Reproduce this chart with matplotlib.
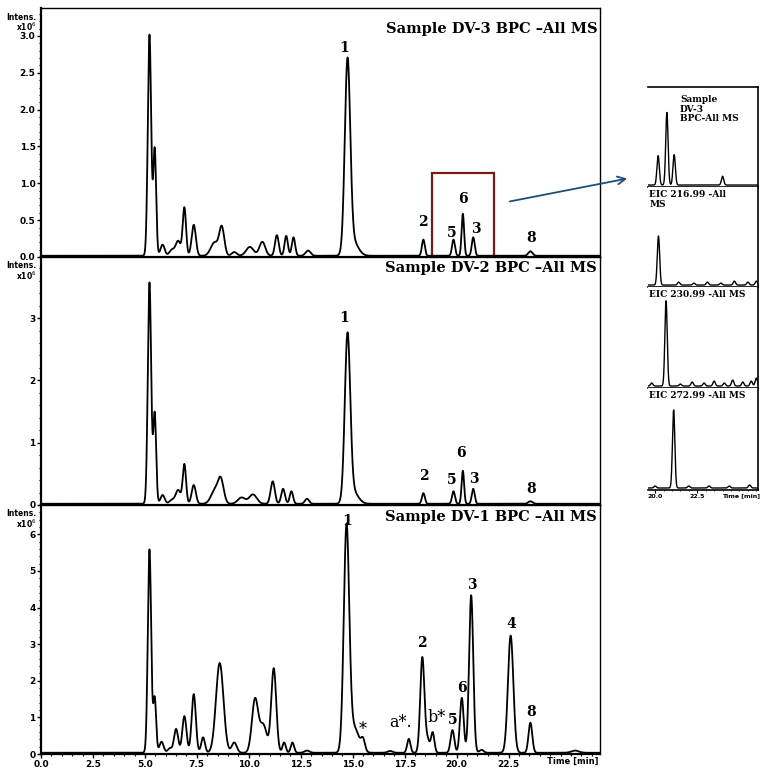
import numpy as np
import matplotlib
matplotlib.use("Agg")
import matplotlib.pyplot as plt
from matplotlib.ticker import MultipleLocator, FixedLocator, FormatStrFormatter
from matplotlib.patches import Rectangle, FancyArrowPatch

# peak tables: retention time (min), intensity (x10^6), width (sigma, min)
dv3_rt = [5.22, 5.47, 5.85, 6.3, 6.6, 6.9, 7.35, 8.35, 8.7, 9.3, 10.05, 10.65, 11.35, 11.8, 12.15, 12.85,
          14.75, 15.0, 18.4, 19.85, 20.3, 20.8, 23.55]
dv3_int = [3.0, 1.45, 0.15, 0.08, 0.2, 0.65, 0.42, 0.18, 0.38, 0.05, 0.12, 0.19, 0.28, 0.27, 0.25, 0.07,
           2.57, 0.2, 0.22, 0.22, 0.57, 0.25, 0.06]
dv3_w = [0.08, 0.07, 0.1, 0.12, 0.12, 0.08, 0.1, 0.18, 0.12, 0.12, 0.18, 0.14, 0.09, 0.08, 0.08, 0.12,
         0.13, 0.25, 0.07, 0.07, 0.06, 0.07, 0.1]

dv2_rt = [5.22, 5.47, 5.85, 6.3, 6.6, 6.9, 7.35, 8.35, 8.65, 9.65, 10.2, 11.15, 11.65, 12.05, 12.8,
          14.75, 15.0, 18.4, 19.85, 20.3, 20.8, 23.55]
dv2_int = [3.55, 1.45, 0.14, 0.06, 0.22, 0.63, 0.3, 0.2, 0.38, 0.1, 0.15, 0.36, 0.24, 0.2, 0.08,
           2.63, 0.2, 0.17, 0.2, 0.53, 0.24, 0.04]
dv2_w = [0.08, 0.07, 0.1, 0.12, 0.12, 0.08, 0.1, 0.18, 0.14, 0.18, 0.18, 0.1, 0.09, 0.08, 0.1,
         0.13, 0.25, 0.07, 0.07, 0.06, 0.07, 0.1]

dv1_rt = [5.22, 5.47, 5.8, 6.2, 6.5, 6.9, 7.35, 7.8, 8.6, 9.3, 10.3, 10.7, 11.2, 11.7, 12.1, 12.8,
          14.7, 15.05, 15.5, 16.8, 17.7, 18.35, 18.6, 18.85, 19.8, 20.25, 20.7, 21.2, 22.6, 23.55, 25.7]
dv1_int = [5.55, 1.5, 0.3, 0.12, 0.65, 1.0, 1.6, 0.42, 2.45, 0.28, 1.45, 0.75, 2.3, 0.28, 0.28, 0.06,
           6.0, 0.7, 0.28, 0.05, 0.38, 2.6, 0.35, 0.55, 0.62, 1.5, 4.3, 0.08, 3.2, 0.82, 0.06]
dv1_w = [0.08, 0.07, 0.1, 0.1, 0.1, 0.1, 0.1, 0.09, 0.18, 0.12, 0.15, 0.17, 0.12, 0.08, 0.08, 0.12,
         0.13, 0.25, 0.09, 0.12, 0.08, 0.1, 0.1, 0.08, 0.09, 0.09, 0.1, 0.1, 0.13, 0.09, 0.18]

# peak labels (text, rt, intensity)
dv3_labels = [("1", 14.6, 2.84), ("2", 18.37, 0.48), ("5", 19.76, 0.33), ("6", 20.29, 0.79),
              ("3", 20.91, 0.38), ("8", 23.56, 0.26)]
dv2_labels = [("1", 14.6, 3.0), ("2", 18.41, 0.47), ("5", 19.76, 0.40), ("6", 20.19, 0.83),
              ("3", 20.82, 0.42), ("8", 23.56, 0.26)]
dv1_labels = [("1", 14.71, 6.37), ("2", 18.32, 3.03), ("3", 20.72, 4.62), ("4", 22.64, 3.55),
              ("6", 20.24, 1.80), ("5", 19.81, 0.93), ("8", 23.56, 1.15)]
dv1_marks = [("b*", 19.05, 1.01), ("a*.", 17.3, 0.85), ("*", 15.48, 0.66)]

# zoomed inset traces, 20-26 min, relative height
inset_names = ["Sample\nDV-3\nBPC-All MS", "EIC 216.99 -All\nMS", "EIC 230.99 -All MS", "EIC 272.99 -All MS"]
inset_rt = [[20.18, 20.7, 21.13, 24.0],
            [20.2, 21.4, 22.3, 23.1, 23.9, 24.7, 25.5, 26.0],
            [19.8, 20.65, 21.5, 22.2, 22.9, 23.5, 24.1, 24.6, 25.2, 25.7, 26.0],
            [20.0, 21.1, 22.0, 23.2, 24.4, 25.6]]
inset_int = [[0.30, 0.74, 0.31, 0.09],
             [0.50, 0.03, 0.02, 0.03, 0.02, 0.04, 0.03, 0.04],
             [0.03, 0.86, 0.02, 0.04, 0.03, 0.05, 0.03, 0.06, 0.04, 0.05, 0.08],
             [0.02, 0.78, 0.02, 0.02, 0.02, 0.03]]
inset_w = 0.07

x_ticks = [0, 2.5, 5, 7.5, 10, 12.5, 15, 17.5, 20, 22.5]


def trace(t, rt, h, w):
    y = np.zeros_like(t)
    for r, a, s in zip(rt, h, w if np.ndim(w) else [w] * len(rt)):
        y += a * np.exp(-0.5 * ((t - r) / s) ** 2)
    return y


W, H = 765, 776
fig = plt.figure(figsize=(W / 100, H / 100), dpi=100)
plt.rcParams["font.family"] = "DejaVu Sans"


def box(x0, y0, x1, y1):
    return [x0 / W, 1 - y1 / H, (x1 - x0) / W, (y1 - y0) / H]


t = np.linspace(0, 27, 5401)
xmax = 26.9
title_font = dict(family="DejaVu Serif", weight="bold", size=10.5)
lab_font = dict(family="DejaVu Serif", weight="bold", size=10)

panels = [
    (box(41, 8, 600, 257), dv3_rt, dv3_int, dv3_w, 3.38, 0.5, 0.1, "%.1f", "Sample DV-3 BPC \u2013All MS", dv3_labels, 0.915),
    (box(41, 257, 600, 505), dv2_rt, dv2_int, dv2_w, 3.98, 1, 0.2, "%d", "Sample DV-2 BPC \u2013All MS", dv2_labels, 0.955),
    (box(41, 505, 600, 754), dv1_rt, dv1_int, dv1_w, 6.8, 1, 0.2, "%d", "Sample DV-1 BPC \u2013All MS", dv1_labels, 0.95),
]

axes = []
for i, (pos, rt, h, w, ymax, major, minor, fmt, title, labels, ty) in enumerate(panels):
    ax = fig.add_axes(pos)
    ax.plot(t, trace(t, rt, h, w) + 0.005 * ymax, color="black", lw=1.3)
    ax.set_xlim(0, xmax)
    ax.set_ylim(0, ymax)
    ax.yaxis.set_major_locator(MultipleLocator(major))
    ax.yaxis.set_minor_locator(MultipleLocator(minor))
    ax.yaxis.set_major_formatter(FormatStrFormatter(fmt))
    ax.xaxis.set_major_locator(FixedLocator(x_ticks))
    ax.xaxis.set_minor_locator(MultipleLocator(0.5))
    ax.xaxis.set_major_formatter(FormatStrFormatter("%.1f"))
    ax.tick_params(axis="both", which="major", direction="out", length=3, width=1, labelsize=6.5, pad=1)
    ax.tick_params(axis="both", which="minor", direction="out", length=1.5, width=0.8)
    for lbl in ax.get_yticklabels() + ax.get_xticklabels():
        lbl.set_fontweight("bold")
    if i < 2:
        ax.tick_params(axis="x", labelbottom=False)
    for s in ax.spines.values():
        s.set_linewidth(1.0)
    ax.spines["left"].set_linewidth(1.6)
    ax.spines["bottom"].set_linewidth(1.6)
    ax.text(0.995, ty, title, transform=ax.transAxes, ha="right", va="center", **title_font)
    for txt, x, y in labels:
        ax.text(x, y, txt, ha="center", va="center", **lab_font)
    axes.append(ax)

# non-numbered marks in the DV-1 trace
for txt, x, y in dv1_marks:
    axes[2].text(x, y, txt, ha="center", va="center", family="DejaVu Serif", size=11.5)
axes[2].text(25.6, -0.012, "Time [min]", transform=axes[2].get_xaxis_transform(), ha="center", va="top",
             fontsize=6, fontweight="bold")

# "Intens. x10^6" labels
for y0 in [8, 257, 505]:
    fig.text(21 / W, 1 - (y0 + 9) / H, "Intens.", fontsize=5.5, fontweight="bold", ha="center", va="center")
    fig.text(26 / W, 1 - (y0 + 19) / H, "x10$^6$", fontsize=5.5, fontweight="bold", ha="center", va="center")

# zoom box on DV-3
axes[0].add_patch(Rectangle((18.8, -0.07), 3.0, 1.21, fill=False, edgecolor="#7b1818", lw=1.6, clip_on=False))
fig.add_artist(FancyArrowPatch((507 / W, 1 - 202 / H), (630 / W, 1 - 178 / H),
                               transform=fig.transFigure, arrowstyle="->", mutation_scale=14,
                               color="#1f4e79", lw=1.3))

# inset EIC panels
bounds = [87, 187, 287, 388, 490]
for k in range(4):
    ax = fig.add_axes(box(648, bounds[k], 758, bounds[k + 1]))
    ax.plot(t, trace(t, inset_rt[k], inset_int[k], inset_w), color="black", lw=1.0)
    ax.set_xlim(19.58, 26.1)
    ax.set_ylim(-0.02, 1.0)
    ax.spines["left"].set_visible(False)
    ax.spines["top"].set_visible(k == 0)
    for s in ax.spines.values():
        s.set_linewidth(1.2)
    ax.set_yticks([])
    ax.xaxis.set_major_locator(FixedLocator([20.0, 22.5]))
    ax.xaxis.set_minor_locator(MultipleLocator(0.5))
    ax.xaxis.set_major_formatter(FormatStrFormatter("%.1f"))
    ax.tick_params(axis="x", which="major", direction="out", length=2, width=0.8, labelsize=4.5, pad=1)
    ax.tick_params(axis="x", which="minor", direction="out", length=1, width=0.6)
    if k < 3:
        ax.tick_params(axis="x", labelbottom=False)
    else:
        for lbl in ax.get_xticklabels():
            lbl.set_fontweight("bold")
        ax.text(25.1, -0.03, "Time [min]", transform=ax.get_xaxis_transform(), ha="center", va="top",
                fontsize=4.5, fontweight="bold")
    if k == 0:
        ax.text(0.29, 0.92, inset_names[k], transform=ax.transAxes, ha="left", va="top",
                family="DejaVu Serif", weight="bold", size=6.5, linespacing=1.1)
    else:
        ax.text(0.01, 0.97, inset_names[k], transform=ax.transAxes, ha="left", va="top",
                family="DejaVu Serif", weight="bold", size=6.5, linespacing=1.1)

fig.savefig("out.png", dpi=100)
